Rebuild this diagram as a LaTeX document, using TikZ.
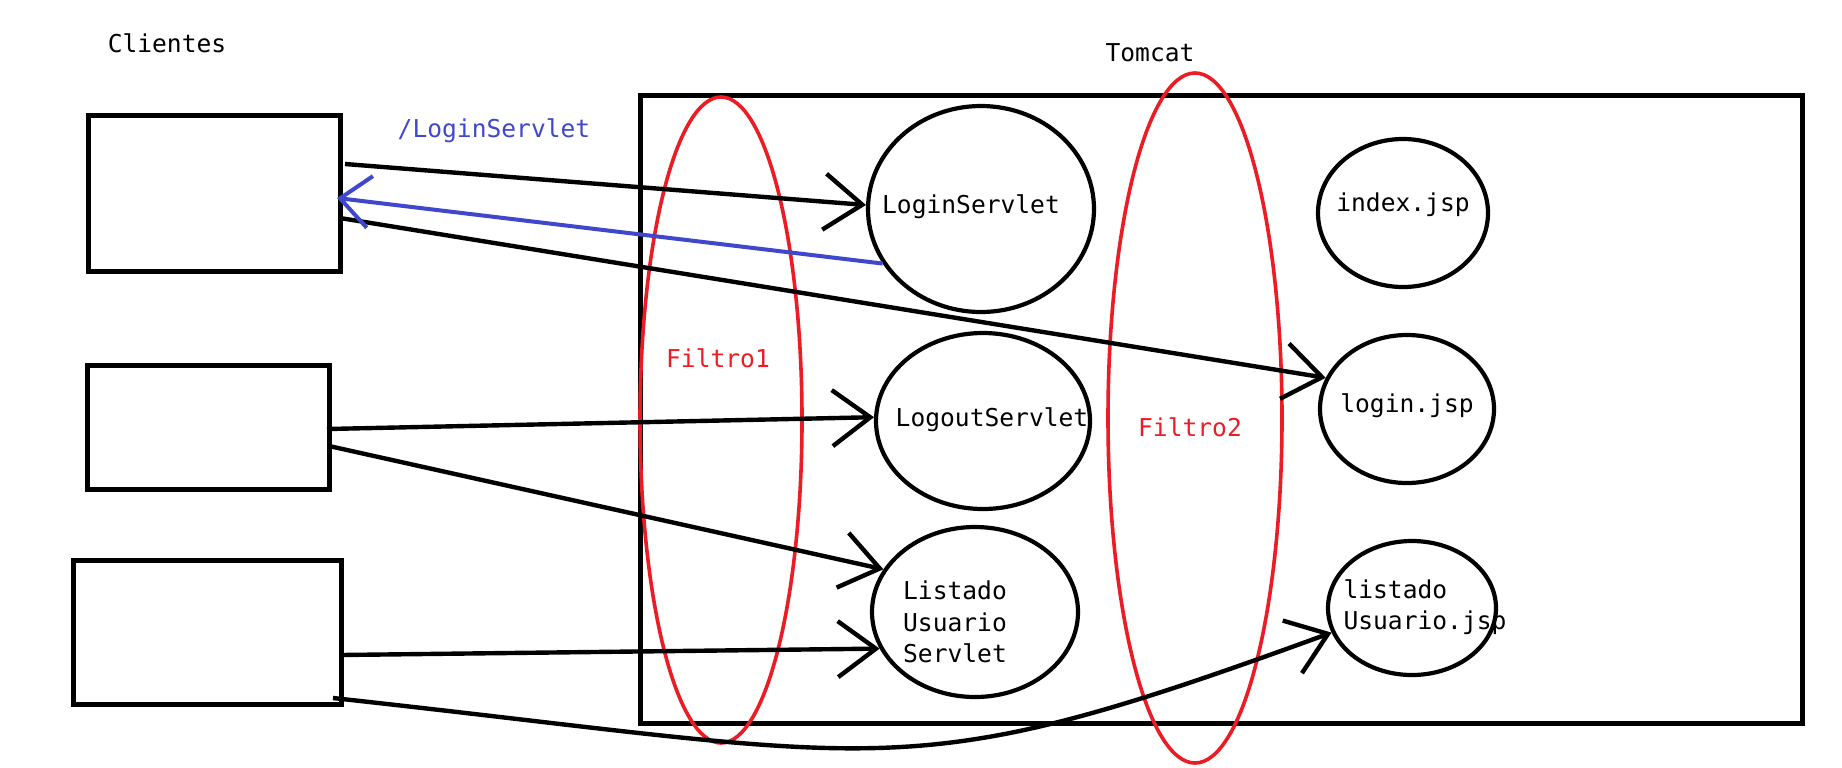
\documentclass[tikz,border=0pt]{standalone}
\usepackage{fontspec}
\setmainfont{DejaVu Sans Mono}
\usetikzlibrary{arrows.meta,shapes.geometric}
\definecolor{pred}{RGB}{237,28,36}
\definecolor{pblue}{RGB}{63,72,204}
\begin{document}
\begin{tikzpicture}[x=0.5pt,y=-0.5pt,
  font=\fontsize{12.3pt}{15.85pt}\selectfont,
  txt/.style={inner sep=0pt},
  lbl/.style={inner sep=0pt, align=left},
  clbox/.style={draw, line width=2.5pt, inner sep=0pt, minimum width=#1},
  tcbox/.style={draw, line width=2.5pt, inner sep=0pt},
  ell/.style={ellipse, draw, line width=2.1pt, inner sep=0pt},
  filt/.style={ellipse, draw=pred, line width=1.8pt, inner sep=0pt},
  arr/.style={line width=2.2pt, -{Straight Barb[length=19pt,width=28pt]}}]
\useasboundingbox[fill=white] (0,0) rectangle (1842,767);

% texts
\node[txt] (tclientes) at (167,43) {Clientes};
\node[txt] (ttomcat) at (1150,53) {Tomcat};
\node[txt, text=pblue] (tlogin) at (494,131) {/LoginServlet};

% client boxes
\node[clbox=126pt, minimum height=78pt] (c1) at (214,193) {};
\node[clbox=121pt, minimum height=62pt] (c2) at (208,427) {};
\node[clbox=134pt, minimum height=72pt] (c3) at (207,632) {};

% tomcat box
\node[tcbox, minimum width=581pt, minimum height=314pt] (tc) at (1221,409) {};

% servlets and jsps
\node[ell, minimum width=113pt, minimum height=103pt,
  label={[lbl,xshift=-5pt,yshift=1pt]center:LoginServlet}] (ls) at (981,209) {};
\node[ell, minimum width=107pt, minimum height=88pt,
  label={[lbl,xshift=4.5pt,yshift=0.5pt]center:LogoutServlet}] (lo) at (983,421) {};
\node[ell, minimum width=103pt, minimum height=85pt,
  label={[lbl,xshift=-10pt,yshift=-5pt]center:{Listado\\Usuario\\Servlet}}] (lu) at (975,612) {};
\node[ell, minimum width=85pt, minimum height=74pt,
  label={[lbl,yshift=4pt]center:index.jsp}] (ix) at (1403,213) {};
\node[ell, minimum width=87pt, minimum height=74pt,
  label={[lbl,yshift=1.5pt]center:login.jsp}] (lg) at (1407,409) {};
\node[ell, minimum width=84pt, minimum height=67pt,
  label={[lbl,xshift=6.5pt,yshift=0.5pt]center:{listado\\Usuario.jsp}}] (lj) at (1412,608) {};

% filters
\node[filt, minimum width=81pt, minimum height=323pt] (f1) at (721,420) {};
\node[filt, minimum width=87pt, minimum height=345pt] (f2) at (1195,418) {};
\node[txt, text=pred] (tf1) at (718,358) {Filtro1};
\node[txt, text=pred] (tf2) at (1190,427) {Filtro2};

% connector ends
\coordinate (s1) at (345,164);
\coordinate (s2) at (340,218);
\coordinate (s3) at (327,429);
\coordinate (s4) at (329,446);
\coordinate (s5) at (341,655);
\coordinate (s6) at (333,698);
\coordinate (b1) at (337,198);
\coordinate (k1) at (900,760);
\coordinate (k2) at (900,790);

% connectors
\draw[arr] (s1) -- (ls.178);
\draw[arr] (s2) -- (lg.159);
\draw[arr] (s3) -- (lo.178);
\draw[arr] (s4) -- (lu.155);
\draw[arr] (s5) -- (lu.201);
\draw[arr] (s6) .. controls (k1) and (k2) .. (lj.197);
\draw[arr, pblue, line width=2pt, -{Straight Barb[length=15pt,width=26pt]}] (ls.209) -- (b1);
\end{tikzpicture}
\end{document}
